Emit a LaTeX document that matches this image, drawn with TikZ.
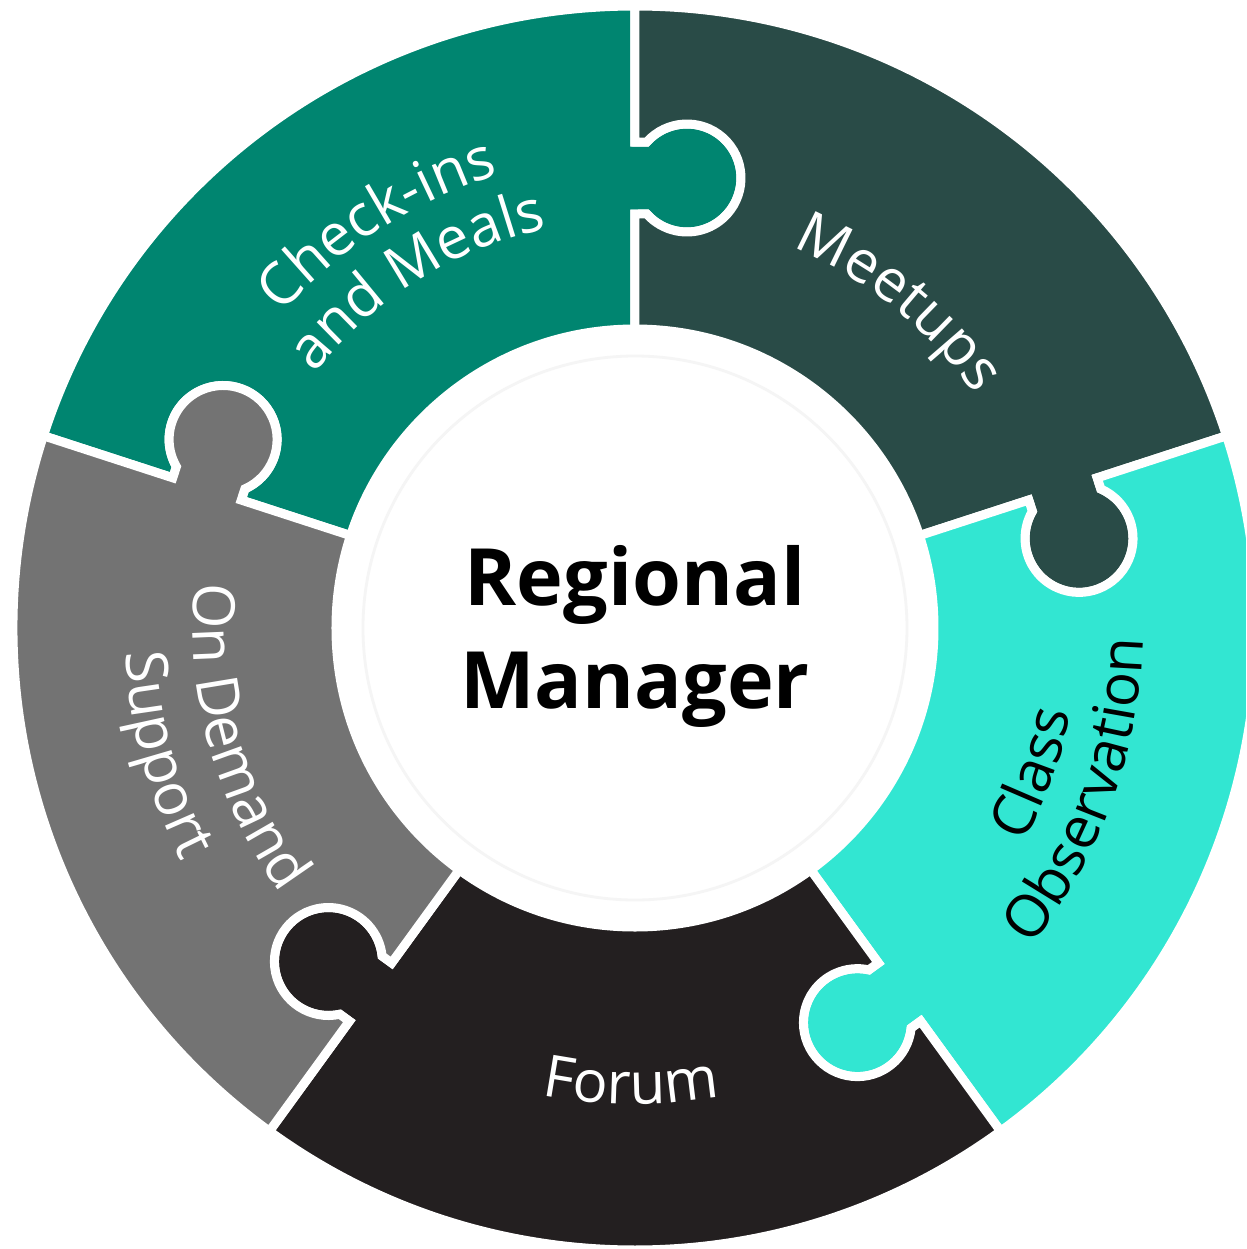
\documentclass[tikz,border=0pt]{standalone}
\usepackage{fontspec}
\setmainfont{Open Sans}
\usetikzlibrary{calc,decorations.text}

\definecolor{pieceteal}{HTML}{008570}
\definecolor{pieceslate}{HTML}{294B47}
\definecolor{pieceaqua}{HTML}{32E6D2}
\definecolor{pieceink}{HTML}{231F20}
\definecolor{piecegray}{HTML}{737373}
\newcommand{\lblfont}{\fontsize{16.6}{19}\selectfont}

\tikzset{
  piece/.style={fill=#1,draw=white,line width=0.09cm,line join=miter},
  arclabel/.style 2 args={decorate,decoration={text along path,text align=center,text color=#1,text={|\lblfont|#2}}}
}

\begin{document}
\begin{tikzpicture}
\useasboundingbox (-6.35,-6.21) rectangle (6.11,6.28);
\clip (-6.35,-6.21) rectangle (6.11,6.28);
\foreach \lo/\col in {90/pieceteal,18/pieceslate,-54/pieceaqua,-126/pieceink,162/piecegray}{
  \pgfmathsetmacro{\hi}{\lo+72}
  \path[piece=\col] (\lo:2.9) -- (\lo:4.14) -- ($(\lo:4.14)+(\lo-90:0.1175)$)
    arc[start angle=\lo+131.8,end angle=\lo+408.2,radius=0.54]
    -- (\lo:4.86) -- (\lo:6.22)
    arc[start angle=\lo,end angle=\hi,radius=6.22]
    -- (\hi:4.86) -- ($(\hi:4.86)+(\hi-90:0.1175)$)
    arc[start angle=\hi+408.2,end angle=\hi+131.8,radius=0.54]
    -- (\hi:4.14) -- (\hi:2.9)
    arc[start angle=\hi,end angle=\lo,radius=2.9] -- cycle;
}
\fill[white] (0,0) circle (3.035);
\draw[black!4,line width=0.8pt] (0,0) circle (2.72);
\node[font=\fontsize{22.5}{29.3}\selectfont\bfseries,align=center] (manager) at (0,-0.08) {Regional\\Manager};

\path[arclabel={white}{Check-ins}] (162.5:4.73) arc[start angle=162.5,end angle=82.5,radius=4.73];
\path[arclabel={white}{and Meals}] (162:4.09) arc[start angle=162,end angle=82,radius=4.09];
\path[arclabel={white}{Meetups}] (91:4.12) arc[start angle=91,end angle=11,radius=4.12];
\path[arclabel={black}{Class}] (-60:4.44) arc[start angle=-60,end angle=20,radius=4.44];
\path[arclabel={black}{Observation}] (-60:5.08) arc[start angle=-60,end angle=20,radius=5.08];
\path[arclabel={white}{Forum}] (-130.5:4.76) arc[start angle=-130.5,end angle=-50.5,radius=4.76];
\path[arclabel={white}{On Demand}] (155.5:4.42) arc[start angle=155.5,end angle=235.5,radius=4.42];
\path[arclabel={white}{Support}] (155:5.1) arc[start angle=155,end angle=235,radius=5.1];
\end{tikzpicture}
\end{document}
